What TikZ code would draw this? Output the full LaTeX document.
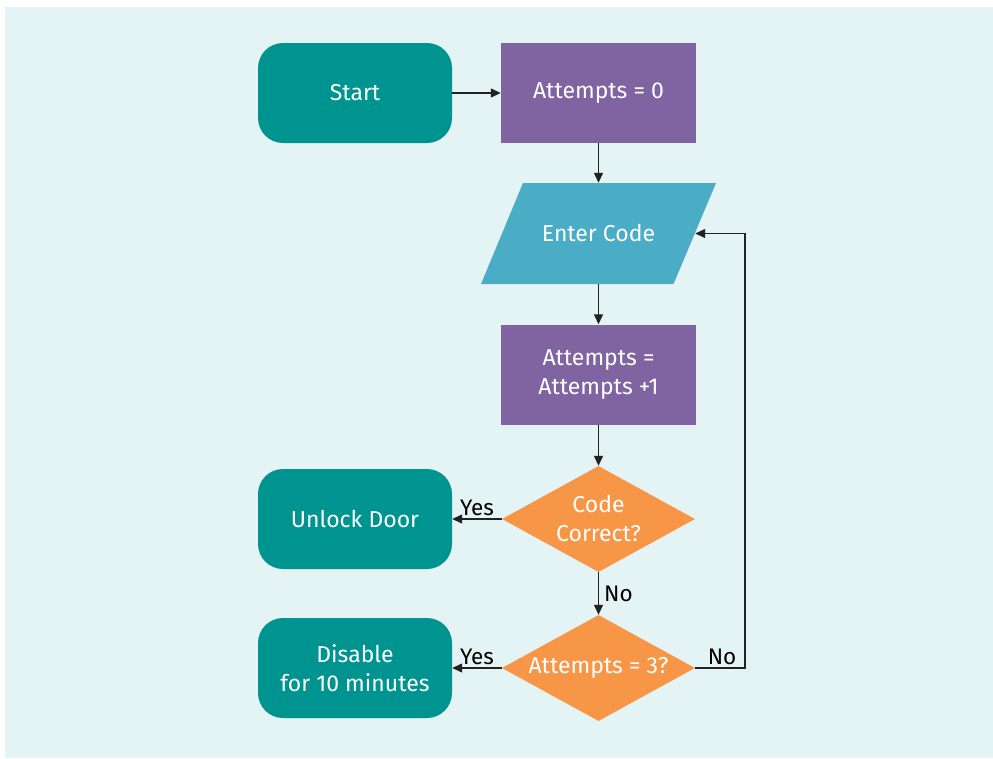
\documentclass[tikz,border=0pt]{standalone}
\usepackage{fontspec}
\setmainfont{Fira Sans}
\usetikzlibrary{shapes.geometric,arrows.meta}
\definecolor{bgc}{HTML}{E4F3F3}
\definecolor{tealc}{HTML}{009491}
\definecolor{purplec}{HTML}{8064A2}
\definecolor{bluec}{HTML}{4BACC6}
\definecolor{orangec}{HTML}{F79646}
\definecolor{linec}{HTML}{222222}
\tikzset{
  base/.style={text=white, font=\fontsize{23}{29}\selectfont, align=center, inner sep=0pt},
  terminal/.style={base, fill=tealc, rounded corners=25pt, minimum width=194pt, minimum height=100pt},
  process/.style={base, fill=purplec, minimum width=195pt, minimum height=100pt},
  io/.style={base, minimum width=193pt, minimum height=101pt},
  decision/.style={base, fill=orangec, diamond, aspect=1.82, minimum width=193pt, minimum height=106pt},
  conn/.style={draw=linec, line width=1.3pt, -{Triangle[length=10pt,width=9pt]}},
  lbl/.style={font=\fontsize{22.5}{25}\selectfont, text=black, inner sep=3pt}
}
\begin{document}
\begin{tikzpicture}[x=1pt, y=-1pt]
  \useasboundingbox (0,0) rectangle (993,758);
  \fill[bgc] (5,7) rectangle (993,758);

  % input/output parallelogram body
  \fill[bluec] (523,183) -- (716,183) -- (673.5,284) -- (481,284) -- cycle;

  \node[terminal] (start) at (355,93) {Start};
  \node[process] (init) at (598.5,93) {Attempts = 0};
  \node[io] (enter) at (598.5,233.5) {Enter Code};
  \node[process] (incr) at (598.5,374.5) {Attempts =\\Attempts +1};
  \node[decision] (check) at (598.5,519) {Code\\Correct?};
  \node[decision] (limit) at (598.5,668) {Attempts = 3?};
  \node[terminal] (unlock) at (355,519) {Unlock Door};
  \node[terminal] (disable) at (355,668) {Disable\\for 10 minutes};
  \coordinate (loop) at (745,668);

  \draw[conn] (start) -- (init);
  \draw[conn] (init) -- (enter);
  \draw[conn] (enter) -- (incr);
  \draw[conn] (incr) -- (check);
  \draw[conn] (check.west) -- node[lbl, above] {Yes} (unlock.east);
  \draw[conn] (check.south) -- node[lbl, right, inner xsep=5pt] {No} (limit.north);
  \draw[conn] (limit.west) -- node[lbl, above] {Yes} (disable.east);
  \draw[conn] (limit.east) -- node[lbl, above, xshift=2pt] {No} (loop) |- (enter.east);
\end{tikzpicture}
\end{document}
